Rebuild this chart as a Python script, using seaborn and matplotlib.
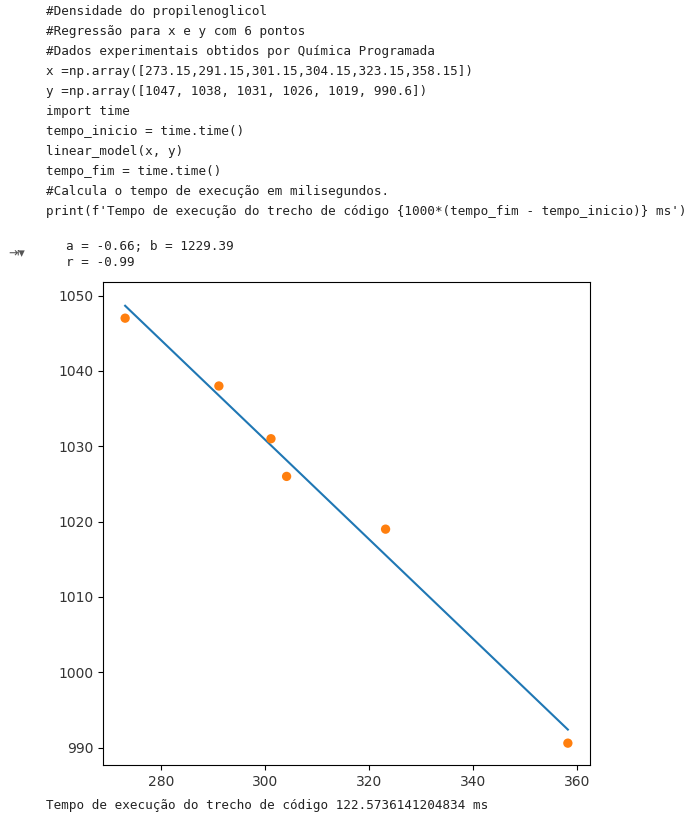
import numpy as np
import matplotlib
matplotlib.use("Agg")
import matplotlib.pyplot as plt
import seaborn as sns

# data from the notebook cell
x = np.array([273.15, 291.15, 301.15, 304.15, 323.15, 358.15])
y = np.array([1047, 1038, 1031, 1026, 1019, 990.6])

code_lines = [
    "#Densidade do propilenoglicol",
    "#Regressão para x e y com 6 pontos",
    "#Dados experimentais obtidos por Química Programada",
    "x =np.array([273.15,291.15,301.15,304.15,323.15,358.15])",
    "y =np.array([1047, 1038, 1031, 1026, 1019, 990.6])",
    "import time",
    "tempo_inicio = time.time()",
    "linear_model(x, y)",
    "tempo_fim = time.time()",
    "#Calcula o tempo de execução em milisegundos.",
    "print(f'Tempo de execução do trecho de código {1000*(tempo_fim - tempo_inicio)} ms')",
]
out_lines = ["a = -0.66; b = 1229.39", "r = -0.99"]
footer = "Tempo de execução do trecho de código 122.5736141204834 ms"

a, b = np.polyfit(x, y, 1)

W, H = 697, 827
fig = plt.figure(figsize=(W / 100, H / 100), dpi=100)
mono = dict(family="DejaVu Sans Mono", fontsize=9.05, color="#222222", va="center")

for i, line in enumerate(code_lines):
    fig.text(46 / W, 1 - (12 + 20 * i) / H, line, **mono)
fig.text(8 / W, 1 - 253 / H, "⇥▾", family="DejaVu Sans", fontsize=9, color="#555555", va="center")
for i, line in enumerate(out_lines):
    fig.text(66 / W, 1 - (246 + 16 * i) / H, line, **mono)
fig.text(46 / W, 1 - 806 / H, footer, **mono)

ax = fig.add_axes([103 / W, 1 - 765 / H, 487 / W, 483 / H])
sns.lineplot(x=x, y=a * x + b, ax=ax, color="tab:blue")
sns.scatterplot(x=x, y=y, ax=ax, color="tab:orange", s=45, edgecolor="none", zorder=3)
ax.set_xlim(268.9, 362.4)
ax.set_ylim(987.7, 1051.8)
ax.set_xticks([280, 300, 320, 340, 360])
ax.set_yticks([990, 1000, 1010, 1020, 1030, 1040, 1050])
ax.tick_params(labelcolor="#333333")

fig.savefig("out.png", dpi=100)
